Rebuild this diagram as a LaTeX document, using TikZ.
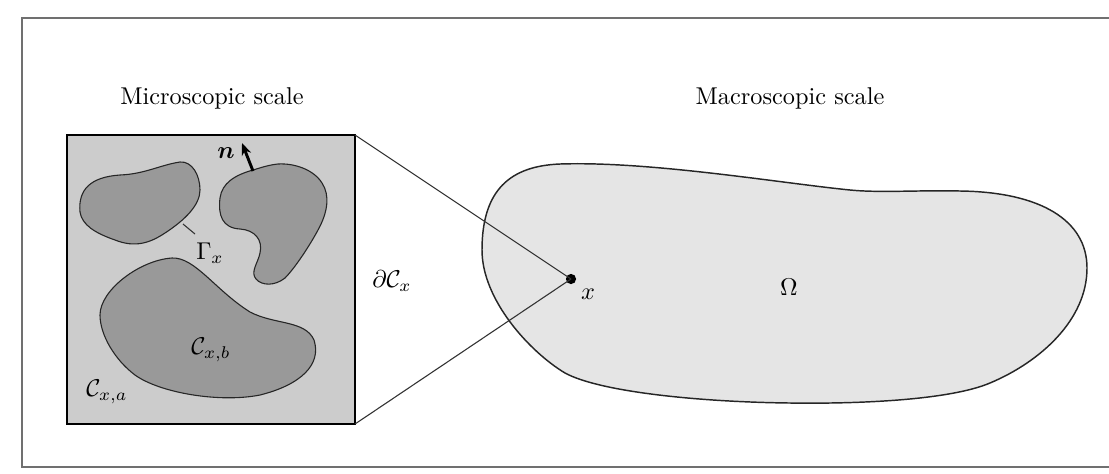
\documentclass[tikz,border=0pt]{standalone}
\usepackage{amsmath,amssymb,bm}
\usetikzlibrary{arrows.meta}
\definecolor{sqgray}{HTML}{CCCCCC}
\definecolor{blobgray}{HTML}{999999}
\definecolor{omgray}{HTML}{E5E5E5}
\definecolor{framegray}{HTML}{707070}
\tikzset{
  blob/.style={draw=black!85, line width=0.45pt, fill=blobgray},
  omega/.style={draw=black!85, line width=0.6pt, fill=omgray},
  link/.style={draw=black!80, line width=0.45pt},
  lbl/.style={inner sep=0pt},
}
\begin{document}
\begin{tikzpicture}[x=0.01446cm, y=-0.01446cm]
\useasboundingbox (0,0) rectangle (1109,473);
\clip (0,0) rectangle (1109,473);
% frame
\draw[framegray, line width=0.8pt] (1125,18) -- (22,18) -- (22,467) -- (1125,467);
% titles
\node[lbl] (tmic) at (212,98) {Microscopic scale};
\node[lbl] (tmac) at (790,98) {Macroscopic scale};
% Omega
\draw[omega] (560,164) .. controls (650,161) and (780,183) .. (850,190)
  .. controls (880,193) and (920,190) .. (960,191)
  .. controls (1040,192) and (1087,220) .. (1087,268)
  .. controls (1087,320) and (1040,362) .. (990,383)
  .. controls (950,400) and (860,404) .. (790,403)
  .. controls (700,402) and (600,392) .. (565,373)
  .. controls (530,352) and (482,300) .. (482,250)
  .. controls (482,190) and (510,166) .. (560,164) -- cycle;
\node[lbl] (om) at (789,287) {$\Omega$};
% square
\coordinate (sqNW) at (67,135);
\coordinate (sqNE) at (355,135);
\coordinate (sqSE) at (355,424);
\coordinate (sqSW) at (67,424);
\draw[fill=sqgray, draw=black, line width=0.45pt] (sqNW) -- (sqNE) -- (sqSE) -- (sqSW) -- cycle;
% point x
\node[circle, fill=black, inner sep=0pt, minimum size=4.2pt] (xdot) at (571,279) {};
\node[lbl] (xl) at (588,294) {$x$};
\draw[link] (sqNE) -- (xdot.center);
\draw[link] (sqSE) -- (xdot.center);
% blob 1
\draw[blob] (80,212) .. controls (78,190) and (90,177) .. (120,175)
  .. controls (145,174) and (160,165) .. (180,162)
  .. controls (192,161) and (200,175) .. (200,190)
  .. controls (200,205) and (185,220) .. (165,233)
  .. controls (150,243) and (135,248) .. (115,240)
  .. controls (95,233) and (82,225) .. (80,212) -- cycle;
% blob 2
\draw[blob] (253,170) .. controls (235,175) and (222,183) .. (220,198)
  .. controls (218,215) and (222,228) .. (240,229)
  .. controls (255,230) and (263,240) .. (260,253)
  .. controls (258,263) and (250,272) .. (256,279)
  .. controls (262,286) and (275,286) .. (285,278)
  .. controls (295,268) and (310,245) .. (318,230)
  .. controls (328,212) and (330,195) .. (322,183)
  .. controls (314,170) and (295,163) .. (278,164)
  .. controls (268,165) and (260,168) .. (253,170) -- cycle;
% blob 3
\draw[blob] (100,315) .. controls (100,290) and (140,260) .. (172,258)
  .. controls (195,257) and (215,290) .. (250,312)
  .. controls (275,325) and (305,320) .. (314,340)
  .. controls (322,365) and (300,385) .. (260,395)
  .. controls (220,403) and (160,393) .. (135,375)
  .. controls (115,360) and (100,335) .. (100,315) -- cycle;
% Gamma label
\coordinate (gA) at (183,224);
\coordinate (gB) at (195,234);
\draw[link] (gA) -- (gB);
\node[lbl] (gam) at (210,253) {$\Gamma_x$};
% normal
\coordinate (nA) at (253,171);
\coordinate (nB) at (242,143);
\draw[line width=1.2pt, -{Stealth[length=5pt,width=4pt]}] (nA) -- (nB);
\node[lbl] (nl) at (226,153) {$\bm{n}$};
% labels
\node[lbl] (cb) at (211,350) {$\mathcal{C}_{x,b}$};
\node[lbl] (ca) at (107,392) {$\mathcal{C}_{x,a}$};
\node[lbl] (dc) at (392,281) {$\partial\mathcal{C}_x$};
\end{tikzpicture}
\end{document}
